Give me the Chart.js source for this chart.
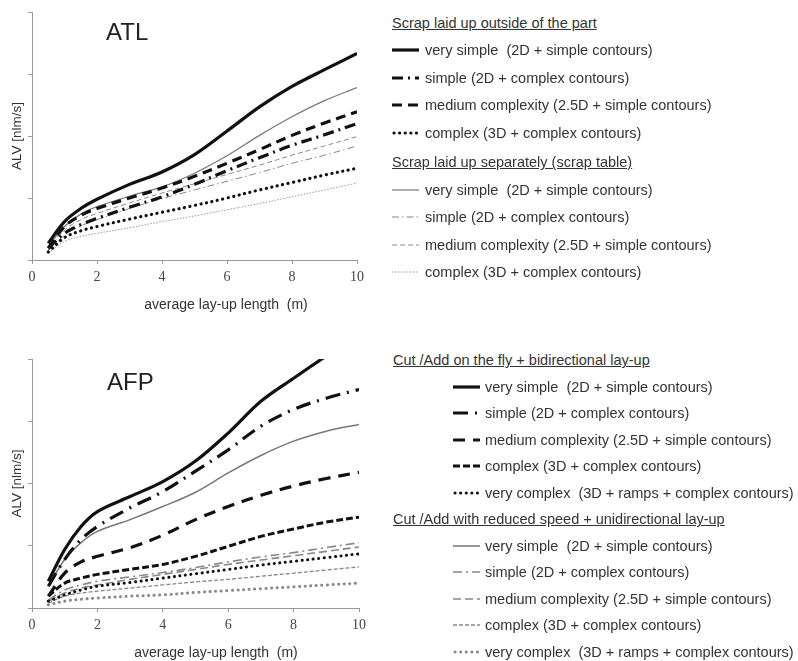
<!DOCTYPE html>
<html lang="en">
<head>
<meta charset="UTF-8">
<title>ALV vs average lay-up length</title>
<script src="https://cdn.jsdelivr.net/npm/chart.js"></script>
<style>
  body { margin: 0; background: #fff; font-family: "Liberation Sans", Arial, sans-serif; color: #333; }
  #page { position: relative; width: 798px; height: 661px; overflow: hidden; }
  canvas { position: absolute; }
  .title { position: absolute; font-size: 24px; line-height: 1; color: #222; }
  .xtitle { position: absolute; font-size: 14px; line-height: 1; color: #333; white-space: pre; transform: translateX(-50%); }
  .legend { position: absolute; font-size: 14.5px; color: #333; }
  .legend .row { display: flex; align-items: center; white-space: pre; }
  .legend .head { text-decoration: underline; }
</style>
</head>
<body>
<div id="page">
  <canvas id="atlChart" width="372" height="320" style="left:0;top:0"></canvas>
  <canvas id="afpChart" width="374" height="314" style="left:0;top:347px"></canvas>
  <div class="title" style="left:106px;top:19.5px">ATL</div>
  <div class="title" style="left:107px;top:369.5px">AFP</div>
  <div class="xtitle" style="left:226px;top:297px">average lay-up length  (m)</div>
  <div class="xtitle" style="left:216px;top:645px">average lay-up length  (m)</div>
  <div class="legend" id="atlLegend" style="left:392px;top:9px"></div>
  <div class="legend" id="afpLegend" style="left:393px;top:347px"></div>
</div>

<script>
  const xValues = [0.5, 1, 1.5, 2, 3, 4, 5, 6, 7, 8, 9, 10];
  const xTickValues = [0, 2, 4, 6, 8, 10];

  // ATL - scrap laid up outside of the part
  const atlOutVerySimple = [0.27, 0.62, 0.83, 0.98, 1.22, 1.42, 1.70, 2.08, 2.47, 2.80, 3.07, 3.33];
  const atlOutSimple     = [0.19, 0.43, 0.57, 0.67, 0.85, 1.02, 1.22, 1.44, 1.65, 1.85, 2.02, 2.20];
  const atlOutMedium     = [0.19, 0.54, 0.72, 0.83, 1.00, 1.16, 1.35, 1.56, 1.78, 2.01, 2.21, 2.39];
  const atlOutComplex    = [0.13, 0.36, 0.47, 0.54, 0.66, 0.77, 0.88, 1.00, 1.13, 1.25, 1.37, 1.48];
  // ATL - scrap laid up separately (scrap table)
  const atlSepVerySimple = [0.22, 0.54, 0.74, 0.86, 1.03, 1.18, 1.40, 1.68, 2.01, 2.31, 2.57, 2.78];
  const atlSepSimple     = [0.15, 0.40, 0.55, 0.65, 0.83, 0.99, 1.13, 1.27, 1.41, 1.56, 1.69, 1.84];
  const atlSepMedium     = [0.16, 0.48, 0.65, 0.75, 0.92, 1.08, 1.23, 1.38, 1.53, 1.69, 1.84, 1.99];
  const atlSepComplex    = [0.11, 0.30, 0.38, 0.43, 0.52, 0.62, 0.71, 0.81, 0.91, 1.02, 1.13, 1.24];

  // AFP - cut/add on the fly + bidirectional lay-up
  const afpFlyVerySimple  = [0.43, 0.94, 1.31, 1.55, 1.79, 2.03, 2.36, 2.81, 3.32, 3.69, 4.05, 4.40];
  const afpFlySimple      = [0.35, 0.78, 1.10, 1.31, 1.61, 1.87, 2.20, 2.54, 2.92, 3.19, 3.37, 3.51];
  const afpFlyMedium      = [0.19, 0.56, 0.74, 0.83, 0.97, 1.17, 1.42, 1.63, 1.81, 1.96, 2.08, 2.18];
  const afpFlyComplex     = [0.19, 0.40, 0.48, 0.54, 0.62, 0.70, 0.83, 0.99, 1.15, 1.27, 1.38, 1.46];
  const afpFlyVeryComplex = [0.11, 0.21, 0.29, 0.35, 0.41, 0.48, 0.55, 0.62, 0.69, 0.75, 0.81, 0.87];
  // AFP - cut/add with reduced speed + unidirectional lay-up
  const afpRedVerySimple  = [0.35, 0.78, 1.05, 1.23, 1.42, 1.63, 1.86, 2.17, 2.45, 2.68, 2.84, 2.95];
  const afpRedSimple      = [0.13, 0.29, 0.37, 0.43, 0.50, 0.57, 0.65, 0.74, 0.82, 0.89, 0.97, 1.05];
  const afpRedMedium      = [0.11, 0.24, 0.32, 0.37, 0.46, 0.54, 0.62, 0.70, 0.77, 0.84, 0.91, 0.98];
  const afpRedComplex     = [0.08, 0.19, 0.24, 0.27, 0.32, 0.37, 0.42, 0.46, 0.51, 0.56, 0.61, 0.66];
  const afpRedVeryComplex = [0.05, 0.11, 0.14, 0.16, 0.19, 0.21, 0.25, 0.28, 0.31, 0.34, 0.37, 0.40];

  const atlGroups = ['Scrap laid up outside of the part', 'Scrap laid up separately (scrap table)'];
  const afpGroups = ['Cut /Add on the fly + bidirectional lay-up', 'Cut /Add with reduced speed + unidirectional lay-up'];

  const atlLabels = [
    'very simple  (2D + simple contours)',
    'simple (2D + complex contours)',
    'medium complexity (2.5D + simple contours)',
    'complex (3D + complex contours)'
  ];
  const afpLabels = [
    'very simple  (2D + simple contours)',
    'simple (2D + complex contours)',
    'medium complexity (2.5D + simple contours)',
    'complex (3D + complex contours)',
    'very complex  (3D + ramps + complex contours)'
  ];

  function pts(ys) {
    return xValues.map((x, i) => ({ x: x, y: ys[i] }));
  }

  function line(label, ys, color, width, dash, round) {
    return {
      label: label,
      data: pts(ys),
      borderColor: color,
      borderWidth: width,
      borderDash: dash || [],
      borderCapStyle: round ? 'round' : 'butt',
      fill: false,
      clip: 0
    };
  }

  const atlSets = [
    line(atlLabels[0], atlOutVerySimple, '#111', 3.2),
    line(atlLabels[1], atlOutSimple, '#111', 3.2, [11, 5, 2, 5]),
    line(atlLabels[2], atlOutMedium, '#111', 3.2, [10, 6]),
    line(atlLabels[3], atlOutComplex, '#111', 3.2, [0.1, 5.5], true),
    line(atlLabels[0], atlSepVerySimple, '#777', 1.2),
    line(atlLabels[1], atlSepSimple, '#888', 1, [7, 3, 1.5, 3]),
    line(atlLabels[2], atlSepMedium, '#888', 1, [5, 3]),
    line(atlLabels[3], atlSepComplex, '#999', 1, [1.5, 1.5])
  ];

  const afpSets = [
    line(afpLabels[0], afpFlyVerySimple, '#111', 3.2),
    line(afpLabels[1], afpFlySimple, '#111', 3.2, [15, 7, 2, 7]),
    line(afpLabels[2], afpFlyMedium, '#111', 3.2, [12, 8]),
    line(afpLabels[3], afpFlyComplex, '#111', 3, [7, 3]),
    line(afpLabels[4], afpFlyVeryComplex, '#111', 3, [0.1, 5.5], true),
    line(afpLabels[0], afpRedVerySimple, '#777', 1.5),
    line(afpLabels[1], afpRedSimple, '#888', 1.6, [9, 4, 2, 4]),
    line(afpLabels[2], afpRedMedium, '#888', 1.6, [8, 4]),
    line(afpLabels[3], afpRedComplex, '#888', 1.3, [4, 2]),
    line(afpLabels[4], afpRedVeryComplex, '#888', 3, [0.1, 5.5], true)
  ];

  function makeChart(id, datasets, xAxisHeight) {
    const axisGrid = { drawOnChartArea: false, drawTicks: true, tickLength: 4, color: '#999' };
    return new Chart(document.getElementById(id), {
      type: 'line',
      data: { datasets: datasets },
      options: {
        responsive: false,
        animation: false,
        layout: { padding: { top: 12, right: 15, left: 0, bottom: 0 } },
        plugins: { legend: { display: false }, tooltip: { enabled: false } },
        elements: { point: { radius: 0 }, line: { tension: 0.35 } },
        scales: {
          x: {
            type: 'linear',
            min: 0,
            max: 10,
            afterBuildTicks: s => { s.ticks = xTickValues.map(v => ({ value: v })); },
            afterFit: s => { s.height = xAxisHeight; },
            grid: axisGrid,
            border: { color: '#999' },
            ticks: { font: { family: 'Liberation Serif', size: 14 }, color: '#444', padding: 5 }
          },
          y: {
            min: 0,
            max: 4,
            ticks: { display: false, stepSize: 1 },
            afterFit: s => { s.width = 32; },
            grid: axisGrid,
            border: { color: '#999' },
            title: {
              display: true,
              text: 'ALV [nlm/s]',
              font: { family: 'Liberation Sans', size: 13.5 },
              color: '#333',
              padding: { top: 9, bottom: 0 }
            }
          }
        }
      }
    });
  }

  // legend with group headings, swatches drawn from the dataset styles
  function buildLegend(el, groups, datasets, perGroup, rowH, itemIndent, textGap, headGap) {
    groups.forEach((g, gi) => {
      const head = document.createElement('div');
      head.className = 'row';
      head.style.height = rowH + 'px';
      if (gi > 0) head.style.marginTop = headGap + 'px';
      const hs = document.createElement('span');
      hs.className = 'head';
      hs.textContent = g;
      head.appendChild(hs);
      el.appendChild(head);
      datasets.slice(gi * perGroup, (gi + 1) * perGroup).forEach(ds => {
        const row = document.createElement('div');
        row.className = 'row';
        row.style.height = rowH + 'px';
        const c = document.createElement('canvas');
        c.width = 27; c.height = 10;
        c.style.position = 'static';
        c.style.marginLeft = itemIndent + 'px';
        c.style.marginRight = textGap + 'px';
        const ctx = c.getContext('2d');
        ctx.strokeStyle = ds.borderColor;
        ctx.lineWidth = ds.borderWidth;
        ctx.lineCap = ds.borderCapStyle;
        ctx.setLineDash(ds.borderDash);
        ctx.beginPath();
        ctx.moveTo(ds.borderCapStyle === 'round' ? 2 : 0, 5);
        ctx.lineTo(27, 5);
        ctx.stroke();
        row.appendChild(c);
        const t = document.createElement('span');
        t.textContent = ds.label;
        row.appendChild(t);
        el.appendChild(row);
      });
    });
  }

  makeChart('atlChart', atlSets, 60);
  makeChart('afpChart', afpSets, 53);
  buildLegend(document.getElementById('atlLegend'), atlGroups, atlSets, 4, 27.5, 0, 6, 2);
  buildLegend(document.getElementById('afpLegend'), afpGroups, afpSets, 5, 26.5, 60, 5, 0);
</script>
</body>
</html>
